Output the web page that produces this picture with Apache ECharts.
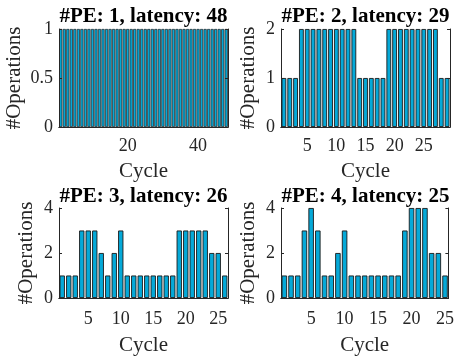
<!DOCTYPE html>
<html><head><meta charset="utf-8">
<script src="https://cdn.jsdelivr.net/npm/echarts@6/dist/echarts.min.js"></script>
<style>html,body{margin:0;padding:0;background:#fff}#c{width:457px;height:357px}</style>
</head><body><div id="c"></div>
<script>
// Data
const pe1 = [1,1,1,1,1,1,1,1,1,1,1,1,1,1,1,1,1,1,1,1,1,1,1,1,1,1,1,1,1,1,1,1,1,1,1,1,1,1,1,1,1,1,1,1,1,1,1,1];
const pe2 = [1,1,1,2,2,2,2,2,2,2,2,2,2,1,1,1,1,1,2,2,2,2,2,2,2,2,2,1,1];
const pe3 = [1,1,1,3,3,3,2,1,2,3,1,1,1,1,1,1,1,1,3,3,3,3,3,2,2,1];
const pe4 = [1,1,1,3,4,3,1,1,2,3,1,1,1,1,1,1,1,1,3,4,4,4,2,2,1];
const titles = ['#PE: 1, latency: 48','#PE: 2, latency: 29','#PE: 3, latency: 26','#PE: 4, latency: 25'];
const yMax = [1, 2, 4, 4];
const yStep = [0.5, 1, 2, 2];
const xStep = [20, 5, 5, 5];
const xLabel = 'Cycle';
const yLabel = '#Operations';
const seriesData = [pe1, pe2, pe3, pe4];

const grids = [
  {left:59, top:29, width:169, height:98},
  {left:281, top:29, width:169, height:98},
  {left:59, top:208, width:169, height:97},
  {left:281, top:208, width:169, height:97}
];
const FONT = 'Liberation Serif';
const AX = '#262626';
const option = {
  animation:false,
  backgroundColor:'#fff',
  title: titles.map((t,i)=>({
    text:t, left: grids[i].left + grids[i].width/2, top: i<2 ? 6 : 186,
    textAlign:'center', padding:0,
    textStyle:{fontFamily:FONT, fontWeight:'bold', fontSize:21, color:'#000'}
  })),
  grid: grids.map(g=>Object.assign({show:false, containLabel:false}, g)),
  xAxis: [], yAxis: [], series: []
};
seriesData.forEach((d,i)=>{
  const cats = d.map((_,k)=>String(k+1));
  const showIdx = (idx)=> (idx+1) % xStep[i] === 0;
  option.xAxis.push({
    type:'category', gridIndex:i, data:cats, boundaryGap:true, z:5,
    name:xLabel, nameLocation:'middle', nameGap: i<2 ? 34 : 37,
    nameTextStyle:{fontFamily:FONT, fontSize:21, color:AX},
    axisLine:{lineStyle:{color:AX, width:1}},
    axisTick:{inside:true, length:3, alignWithLabel:true, interval:showIdx, lineStyle:{color:AX}},
    axisLabel:{interval:showIdx, fontFamily:FONT, fontSize:18, color:AX, margin: i<2 ? 10 : 12}
  });
  option.xAxis.push({
    type:'category', gridIndex:i, data:cats, boundaryGap:true, position:'top', z:5,
    axisLine:{lineStyle:{color:AX, width:1}},
    axisTick:{inside:true, length:3, alignWithLabel:true, interval:showIdx, lineStyle:{color:AX}},
    axisLabel:{show:false}
  });
  option.yAxis.push({
    type:'value', gridIndex:i, min:0, max:yMax[i], interval:yStep[i], z:5,
    name:yLabel, nameLocation:'middle', nameGap:i===0?34:22, nameRotate:90,
    nameTextStyle:{fontFamily:FONT, fontSize:21, color:AX},
    axisLine:{show:true, lineStyle:{color:AX, width:1}},
    axisTick:{show:true, inside:true, length:3, lineStyle:{color:AX}},
    axisLabel:{fontFamily:FONT, fontSize:18, color:AX, margin:6},
    splitLine:{show:false}
  });
  option.yAxis.push({
    type:'value', gridIndex:i, min:0, max:yMax[i], interval:yStep[i], position:'right', z:5,
    axisLine:{show:true, lineStyle:{color:AX, width:1}},
    axisTick:{show:true, inside:true, length:3, lineStyle:{color:AX}},
    axisLabel:{show:false}, splitLine:{show:false}
  });
  option.series.push({
    type:'bar', xAxisIndex:2*i, yAxisIndex:2*i, data:d,
    barCategoryGap: i===0 ? '12%' : '18%',
    itemStyle:{color:'#05A9D8', borderColor:'#1a1a1a', borderWidth: i===0 ? 0.7 : 0.9}
  });
});
const chart = echarts.init(document.getElementById('c'), null, {renderer:'canvas'});
chart.setOption(option);
</script>
</body></html>
